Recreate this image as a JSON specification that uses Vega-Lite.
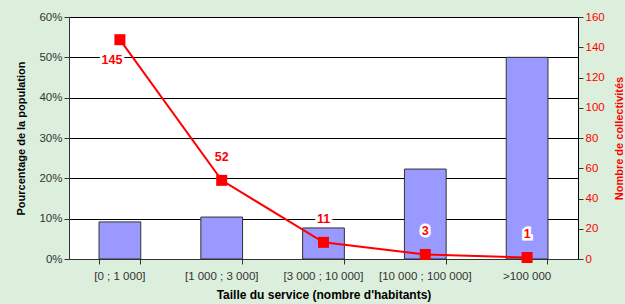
{
  "$schema": "https://vega.github.io/schema/vega-lite/v6.json",
  "width": 509,
  "height": 242,
  "autosize": {"type": "none"},
  "padding": {"left": 69, "top": 17, "right": 47, "bottom": 45},
  "background": "#dcefdc",
  "config": {
    "view": {"fill": "white", "stroke": null},
    "font": "Liberation Sans",
    "axis": {
      "labelFont": "Liberation Sans",
      "titleFont": "Liberation Sans",
      "labelFontSize": 11.5,
      "titleFontSize": 11,
      "titleFontWeight": "bold",
      "labelColor": "#333333",
      "titleColor": "#000000",
      "domainColor": "#333333",
      "tickColor": "#333333",
      "tickSize": 5
    }
  },
  "data": {
    "values": [
      {"cat": "[0 ; 1 000]", "pct": 0.092, "n": 145},
      {"cat": "[1 000 ; 3 000]", "pct": 0.104, "n": 52},
      {"cat": "[3 000 ; 10 000]", "pct": 0.077, "n": 11},
      {"cat": "[10 000 ; 100 000]", "pct": 0.223, "n": 3},
      {"cat": ">100 000", "pct": 0.5, "n": 1}
    ]
  },
  "encoding": {
    "x": {
      "field": "cat",
      "type": "nominal",
      "sort": null,
      "scale": {"paddingInner": 0.59, "paddingOuter": 0.295},
      "axis": {
        "title": "Taille du service (nombre d'habitants)",
        "titleFontSize": 12,
        "labelAngle": 0,
        "bandPosition": 1,
        "tickExtra": true,
        "grid": false,
        "labelPadding": 6,
        "titlePadding": 8,
        "domainColor": "#333333"
      }
    }
  },
  "layer": [
    {
      "mark": {"type": "bar", "fill": "#9999ff", "stroke": "#333333", "strokeWidth": 1},
      "encoding": {
        "y": {
          "field": "pct",
          "type": "quantitative",
          "scale": {"domain": [0, 0.6]},
          "axis": {
            "title": "Pourcentage de la population",
            "format": ".0%",
            "values": [0, 0.1, 0.2, 0.3, 0.4, 0.5, 0.6],
            "grid": true,
            "gridColor": "#000000",
            "gridOpacity": 1,
            "titlePadding": 12
          }
        }
      }
    },
    {
      "encoding": {
        "y": {
          "field": "n",
          "type": "quantitative",
          "scale": {"domain": [0, 160]},
          "axis": {
            "orient": "right",
            "title": "Nombre de collectivités",
            "titleAngle": -90,
            "titleColor": "#ff0000",
            "labelColor": "#ff0000",
            "values": [0, 20, 40, 60, 80, 100, 120, 140, 160],
            "grid": false,
            "domainColor": "#000000",
            "tickColor": "#333333",
            "titlePadding": 20
          }
        }
      },
      "layer": [
        {"mark": {"type": "line", "color": "#ff0000", "strokeWidth": 2}},
        {"mark": {"type": "point", "shape": "square", "filled": true, "color": "#ff0000", "size": 121, "opacity": 1}},
        {
          "transform": [{"filter": "datum.n > 100"}],
          "mark": {"type": "text", "dy": 20, "dx": -8, "fontSize": 12.5, "fontWeight": "bold", "color": "#ff0000", "stroke": "white", "strokeWidth": 5},
          "encoding": {"text": {"field": "n"}}
        },
        {
          "transform": [{"filter": "datum.n > 100"}],
          "mark": {"type": "text", "dy": 20, "dx": -8, "fontSize": 12.5, "fontWeight": "bold", "color": "#ff0000"},
          "encoding": {"text": {"field": "n"}}
        },
        {
          "transform": [{"filter": "datum.n <= 100"}],
          "mark": {"type": "text", "dy": -23, "fontSize": 12.5, "fontWeight": "bold", "color": "#ff0000", "stroke": "white", "strokeWidth": 5},
          "encoding": {"text": {"field": "n"}}
        },
        {
          "transform": [{"filter": "datum.n <= 100"}],
          "mark": {"type": "text", "dy": -23, "fontSize": 12.5, "fontWeight": "bold", "color": "#ff0000"},
          "encoding": {"text": {"field": "n"}}
        }
      ]
    }
  ],
  "resolve": {"scale": {"y": "independent"}}
}
